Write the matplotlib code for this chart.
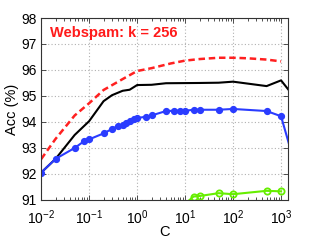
import matplotlib
matplotlib.use("Agg")
import matplotlib.pyplot as plt
from matplotlib.ticker import LogLocator, NullFormatter, FixedLocator

plt.rcParams['font.family'] = ['Liberation Sans', 'DejaVu Sans']
plt.rcParams['mathtext.fontset'] = 'custom'
plt.rcParams['mathtext.rm'] = 'Liberation Sans'
plt.rcParams['mathtext.it'] = 'Liberation Sans'

# Red dashed curve
C_red = [0.01, 0.02, 0.05, 0.1, 0.2, 0.5, 1, 2, 5, 10, 20, 50, 100, 200, 500, 1000]
acc_red = [92.57, 93.35, 94.25, 94.72, 95.23, 95.65, 95.96, 96.07, 96.25, 96.36,
           96.42, 96.47, 96.47, 96.45, 96.40, 96.33]

# Black solid curve
C_black = [0.01, 0.02, 0.05, 0.1, 0.2, 0.3, 0.5, 0.7, 1, 2, 4, 20, 50, 100, 500, 1000, 2000]
acc_black = [92.05, 92.58, 93.5, 94.03, 94.8, 95.03, 95.2, 95.24, 95.42, 95.43,
             95.49, 95.5, 95.51, 95.55, 95.38, 95.6, 94.9]

# Blue curve with filled markers
C_blue = [0.01, 0.02, 0.05, 0.08, 0.1, 0.2, 0.3, 0.4, 0.5, 0.6, 0.7, 0.85, 1.0,
          1.5, 2, 4, 6, 8, 10, 15, 20, 50, 100, 500, 1000, 2000]
acc_blue = [92.05, 92.58, 93.0, 93.27, 93.33, 93.56, 93.73, 93.85, 93.9, 93.95,
            94.04, 94.1, 94.15, 94.2, 94.25, 94.42, 94.43, 94.43, 94.43, 94.47,
            94.47, 94.47, 94.5, 94.42, 94.22, 92.28]

# Green curve with open markers
C_green = [10, 15, 20, 50, 100, 500, 1000]
acc_green = [90.85, 91.13, 91.15, 91.26, 91.22, 91.35, 91.33]

fig = plt.figure(figsize=(3.19, 2.40), dpi=100)
ax = fig.add_axes([0.129, 0.167, 0.774, 0.758])

ax.plot(C_red, acc_red, color='#ff2020', lw=1.8, ls=(0, (2.6, 1.5)))
ax.plot(C_black, acc_black, color='black', lw=1.5)
ax.plot(C_blue, acc_blue, color='#2a3cff', lw=1.5, marker='o', ms=4.2,
        markerfacecolor='#2a3cff', markeredgecolor='#2a3cff')
ax.plot(C_green, acc_green, color='#66ee00', lw=1.5, marker='o', ms=4.5,
        markerfacecolor='none', markeredgecolor='#66ee00', markeredgewidth=1.3)

ax.set_xscale('log')
ax.set_xlim(0.01, 1400)
ax.set_ylim(91, 98)
ax.set_yticks([91, 92, 93, 94, 95, 96, 97, 98])
ax.xaxis.set_major_locator(FixedLocator([1e-2, 1e-1, 1e0, 1e1, 1e2, 1e3]))
ax.xaxis.set_minor_locator(LogLocator(base=10, subs=range(2, 10), numticks=20))
ax.xaxis.set_minor_formatter(NullFormatter())

ax.grid(True, which='major', ls=(0, (1, 2)), color='#b0b0b0', lw=0.8)
ax.tick_params(which='both', direction='in', top=True, right=True,
               labelsize=10, width=0.6, color='#333333')
ax.tick_params(which='major', length=3.5)
ax.tick_params(axis='x', which='major', pad=6)
ax.tick_params(axis='y', which='major', pad=3)
ax.tick_params(which='minor', length=2)
for s in ax.spines.values():
    s.set_linewidth(0.8)
    s.set_color('#333333')

ax.set_xlabel('C', fontsize=10.5, labelpad=-1)
ax.set_ylabel('Acc (%)', fontsize=10.5, labelpad=2)

ax.text(0.035, 0.915, 'Webspam: k = 256', transform=ax.transAxes,
        color='#ff1a1a', fontsize=10.5, fontweight='bold', va='center', ha='left')

fig.savefig('out.png', dpi=100)
